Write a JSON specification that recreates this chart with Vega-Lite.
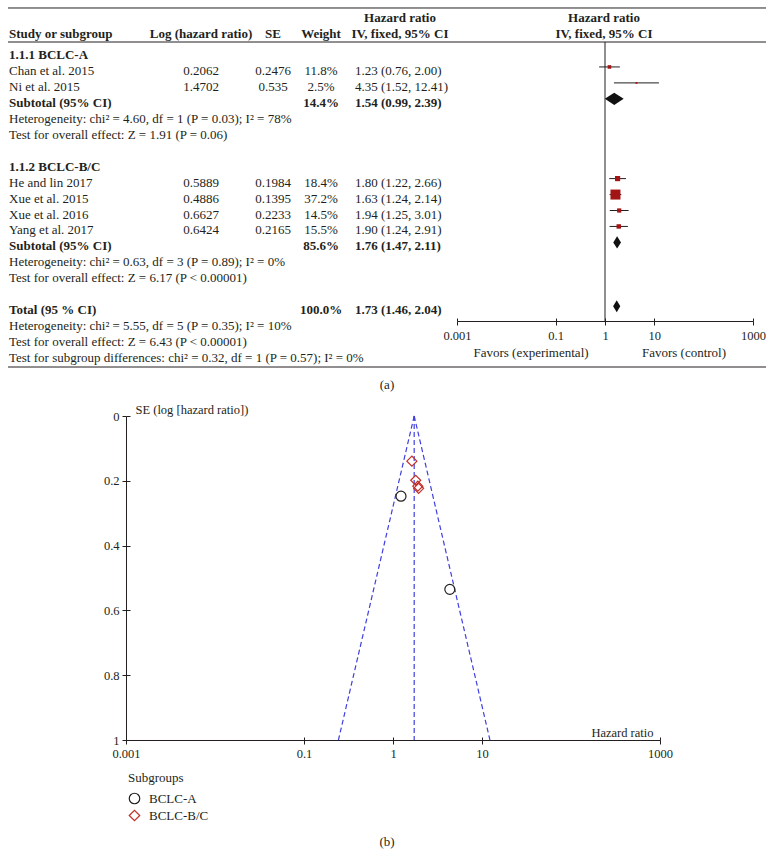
{
  "$schema": "https://vega.github.io/schema/vega-lite/v6.json",
  "width": 774,
  "height": 867,
  "padding": 0,
  "autosize": {"type": "fit", "contains": "padding"},
  "config": {
    "view": {"stroke": null},
    "font": "Liberation Serif",
    "text": {"font": "Liberation Serif", "fontSize": 13, "color": "#231f20"},
    "axis": {
      "labelFont": "Liberation Serif", "labelFontSize": 12.5, "labelColor": "#231f20",
      "domainColor": "#231f20", "tickColor": "#231f20", "grid": false,
      "titleFont": "Liberation Serif", "titleFontSize": 12.5, "titleFontWeight": "normal", "titleColor": "#231f20"
    }
  },
  "datasets": {
    "table": [
      {"row": 0, "study": "1.1.1 BCLC-A", "bold": true},
      {"row": 1, "study": "Chan et al. 2015", "loghr": "0.2062", "seText": "0.2476", "weight": "11.8%", "hrText": "1.23 (0.76, 2.00)", "est": 1.23, "lo": 0.76, "hi": 2.00, "w": 11.8, "se": 0.2476, "sub": "BCLC-A"},
      {"row": 2, "study": "Ni et al. 2015", "loghr": "1.4702", "seText": "0.535", "weight": "2.5%", "hrText": "4.35 (1.52, 12.41)", "est": 4.35, "lo": 1.52, "hi": 12.41, "w": 2.5, "se": 0.535, "sub": "BCLC-A"},
      {"row": 3, "study": "Subtotal (95% CI)", "weight": "14.4%", "hrText": "1.54 (0.99, 2.39)", "est": 1.54, "lo": 0.99, "hi": 2.39, "bold": true, "summary": true},
      {"row": 4, "study": "Heterogeneity: chi² = 4.60, df = 1 (P = 0.03); I² = 78%"},
      {"row": 5, "study": "Test for overall effect: Z = 1.91 (P = 0.06)"},
      {"row": 7, "study": "1.1.2 BCLC-B/C", "bold": true},
      {"row": 8, "study": "He and lin 2017", "loghr": "0.5889", "seText": "0.1984", "weight": "18.4%", "hrText": "1.80 (1.22, 2.66)", "est": 1.80, "lo": 1.22, "hi": 2.66, "w": 18.4, "se": 0.1984, "sub": "BCLC-B/C"},
      {"row": 9, "study": "Xue et al. 2015", "loghr": "0.4886", "seText": "0.1395", "weight": "37.2%", "hrText": "1.63 (1.24, 2.14)", "est": 1.63, "lo": 1.24, "hi": 2.14, "w": 37.2, "se": 0.1395, "sub": "BCLC-B/C"},
      {"row": 10, "study": "Xue et al. 2016", "loghr": "0.6627", "seText": "0.2233", "weight": "14.5%", "hrText": "1.94 (1.25, 3.01)", "est": 1.94, "lo": 1.25, "hi": 3.01, "w": 14.5, "se": 0.2233, "sub": "BCLC-B/C"},
      {"row": 11, "study": "Yang et al. 2017", "loghr": "0.6424", "seText": "0.2165", "weight": "15.5%", "hrText": "1.90 (1.24, 2.91)", "est": 1.90, "lo": 1.24, "hi": 2.91, "w": 15.5, "se": 0.2165, "sub": "BCLC-B/C"},
      {"row": 12, "study": "Subtotal (95% CI)", "weight": "85.6%", "hrText": "1.76 (1.47, 2.11)", "est": 1.76, "lo": 1.47, "hi": 2.11, "bold": true, "summary": true},
      {"row": 13, "study": "Heterogeneity: chi² = 0.63, df = 3 (P = 0.89); I² = 0%"},
      {"row": 14, "study": "Test for overall effect: Z = 6.17 (P < 0.00001)"},
      {"row": 16, "study": "Total (95 % CI)", "weight": "100.0%", "hrText": "1.73 (1.46, 2.04)", "est": 1.73, "lo": 1.46, "hi": 2.04, "bold": true, "summary": true},
      {"row": 17, "study": "Heterogeneity: chi² = 5.55, df = 5 (P = 0.35); I² = 10%"},
      {"row": 18, "study": "Test for overall effect: Z = 6.43 (P < 0.00001)"},
      {"row": 19, "study": "Test for subgroup differences: chi² = 0.32, df = 1 (P = 0.57); I² = 0%"}
    ],
    "header": [
      {"row": -2, "hrh": "Hazard ratio", "fh": "Hazard ratio"},
      {"row": -1, "study": "Study or subgroup", "loghr": "Log (hazard ratio)", "seText": "SE", "weight": "Weight", "hrh": "IV, fixed, 95% CI", "fh": "IV, fixed, 95% CI"}
    ],
    "funnelLines": [
      {"line": "center", "hr": 1.73, "se": 0},
      {"line": "center", "hr": 1.73, "se": 1},
      {"line": "left", "hr": 1.73, "se": 0},
      {"line": "left", "hr": 0.2437, "se": 1},
      {"line": "right", "hr": 1.73, "se": 0},
      {"line": "right", "hr": 12.28, "se": 1}
    ]
  },
  "resolve": {"scale": {"x": "independent", "y": "independent"}, "axis": {"x": "independent", "y": "independent"}},
  "layer": [
    {
      "layer": [
        {"data": {"name": "table"}, "transform": [{"filter": "!datum.bold"}],
         "mark": {"type": "text", "align": "left", "baseline": "middle", "dy": 4, "dx": 1},
         "encoding": {"x": {"datum": 0, "type": "quantitative", "scale": {"domain": [0,1,2,3,4,5,6,7,8,9,10], "range": [8,201,273,321,355,387,400,531,604,684,766], "zero": false, "nice": false}, "axis": null},
                      "y": {"field": "row", "type": "quantitative", "scale": {"domain": [0, 20], "range": [51, 370], "zero": false, "nice": false}, "axis": null},
                      "text": {"field": "study"}}},
        {"data": {"name": "table"}, "transform": [{"filter": "datum.bold"}],
         "mark": {"type": "text", "align": "left", "baseline": "middle", "dy": 4, "dx": 1, "fontWeight": "bold"},
         "encoding": {"x": {"datum": 0, "type": "quantitative", "axis": null},
                      "y": {"field": "row", "type": "quantitative", "axis": null},
                      "text": {"field": "study"}}},
        {"data": {"name": "table"}, "transform": [{"filter": "datum.loghr"}],
         "mark": {"type": "text", "align": "center", "baseline": "middle", "dy": 4},
         "encoding": {"x": {"datum": 1, "type": "quantitative", "axis": null},
                      "y": {"field": "row", "type": "quantitative", "axis": null},
                      "text": {"field": "loghr"}}},
        {"data": {"name": "table"}, "transform": [{"filter": "datum.seText"}],
         "mark": {"type": "text", "align": "center", "baseline": "middle", "dy": 4},
         "encoding": {"x": {"datum": 2, "type": "quantitative", "axis": null},
                      "y": {"field": "row", "type": "quantitative", "axis": null},
                      "text": {"field": "seText"}}},
        {"data": {"name": "table"}, "transform": [{"filter": "datum.weight && !datum.bold"}],
         "mark": {"type": "text", "align": "center", "baseline": "middle", "dy": 4},
         "encoding": {"x": {"datum": 3, "type": "quantitative", "axis": null},
                      "y": {"field": "row", "type": "quantitative", "axis": null},
                      "text": {"field": "weight"}}},
        {"data": {"name": "table"}, "transform": [{"filter": "datum.weight && datum.bold"}],
         "mark": {"type": "text", "align": "center", "baseline": "middle", "dy": 4, "fontWeight": "bold"},
         "encoding": {"x": {"datum": 3, "type": "quantitative", "axis": null},
                      "y": {"field": "row", "type": "quantitative", "axis": null},
                      "text": {"field": "weight"}}},
        {"data": {"name": "table"}, "transform": [{"filter": "datum.hrText && !datum.bold"}],
         "mark": {"type": "text", "align": "left", "baseline": "middle", "dy": 4},
         "encoding": {"x": {"datum": 4, "type": "quantitative", "axis": null},
                      "y": {"field": "row", "type": "quantitative", "axis": null},
                      "text": {"field": "hrText"}}},
        {"data": {"name": "table"}, "transform": [{"filter": "datum.hrText && datum.bold"}],
         "mark": {"type": "text", "align": "left", "baseline": "middle", "dy": 4, "fontWeight": "bold"},
         "encoding": {"x": {"datum": 4, "type": "quantitative", "axis": null},
                      "y": {"field": "row", "type": "quantitative", "axis": null},
                      "text": {"field": "hrText"}}},
        {"data": {"name": "header"}, "transform": [{"filter": "datum.study"}],
         "mark": {"type": "text", "align": "left", "baseline": "middle", "dy": -1, "dx": 1, "fontWeight": "bold"},
         "encoding": {"x": {"datum": 0, "type": "quantitative", "axis": null},
                      "y": {"field": "row", "type": "quantitative", "axis": null},
                      "text": {"field": "study"}}},
        {"data": {"name": "header"}, "transform": [{"filter": "datum.loghr"}],
         "mark": {"type": "text", "align": "center", "baseline": "middle", "dy": -1, "fontWeight": "bold"},
         "encoding": {"x": {"datum": 1, "type": "quantitative", "axis": null},
                      "y": {"field": "row", "type": "quantitative", "axis": null},
                      "text": {"field": "loghr"}}},
        {"data": {"name": "header"}, "transform": [{"filter": "datum.seText"}],
         "mark": {"type": "text", "align": "center", "baseline": "middle", "dy": -1, "fontWeight": "bold"},
         "encoding": {"x": {"datum": 2, "type": "quantitative", "axis": null},
                      "y": {"field": "row", "type": "quantitative", "axis": null},
                      "text": {"field": "seText"}}},
        {"data": {"name": "header"}, "transform": [{"filter": "datum.weight"}],
         "mark": {"type": "text", "align": "center", "baseline": "middle", "dy": -1, "fontWeight": "bold"},
         "encoding": {"x": {"datum": 3, "type": "quantitative", "axis": null},
                      "y": {"field": "row", "type": "quantitative", "axis": null},
                      "text": {"field": "weight"}}},
        {"data": {"name": "header"},
         "mark": {"type": "text", "align": "center", "baseline": "middle", "dy": -1, "fontWeight": "bold"},
         "encoding": {"x": {"datum": 6, "type": "quantitative", "axis": null},
                      "y": {"field": "row", "type": "quantitative", "axis": null},
                      "text": {"field": "hrh"}}},
        {"data": {"name": "header"},
         "mark": {"type": "text", "align": "center", "baseline": "middle", "dy": -1, "fontWeight": "bold"},
         "encoding": {"x": {"datum": 8, "type": "quantitative", "axis": null},
                      "y": {"field": "row", "type": "quantitative", "axis": null},
                      "text": {"field": "fh"}}},
        {"data": {"values": [{}]},
         "mark": {"type": "text", "align": "center", "baseline": "middle"},
         "encoding": {"x": {"datum": 7, "type": "quantitative", "axis": null},
                      "y": {"datum": 18.93, "type": "quantitative", "axis": null},
                      "text": {"value": "Favors (experimental)"}}},
        {"data": {"values": [{}]},
         "mark": {"type": "text", "align": "center", "baseline": "middle"},
         "encoding": {"x": {"datum": 9, "type": "quantitative", "axis": null},
                      "y": {"datum": 18.93, "type": "quantitative", "axis": null},
                      "text": {"value": "Favors (control)"}}},
        {"data": {"values": [{}]},
         "mark": {"type": "text", "align": "center", "baseline": "middle"},
         "encoding": {"x": {"datum": 5, "type": "quantitative", "axis": null},
                      "y": {"datum": 20.94, "type": "quantitative", "axis": null},
                      "text": {"value": "(a)"}}},
        {"data": {"values": [{}]},
         "mark": {"type": "text", "align": "center", "baseline": "middle"},
         "encoding": {"x": {"datum": 5, "type": "quantitative", "axis": null},
                      "y": {"datum": 49.59, "type": "quantitative", "axis": null},
                      "text": {"value": "(b)"}}},
        {"data": {"values": [{}]},
         "mark": {"type": "rule", "color": "#231f20", "strokeWidth": 1},
         "encoding": {"x": {"datum": 0, "type": "quantitative", "axis": null},
                      "x2": {"datum": 10},
                      "y": {"datum": -2.696, "type": "quantitative", "axis": null}}},
        {"data": {"values": [{}]},
         "mark": {"type": "rule", "color": "#231f20", "strokeWidth": 1},
         "encoding": {"x": {"datum": 0, "type": "quantitative", "axis": null},
                      "x2": {"datum": 10},
                      "y": {"datum": -0.564, "type": "quantitative", "axis": null}}},
        {"data": {"values": [{}]},
         "mark": {"type": "rule", "color": "#231f20", "strokeWidth": 1},
         "encoding": {"x": {"datum": 0, "type": "quantitative", "axis": null},
                      "x2": {"datum": 10},
                      "y": {"datum": 19.812, "type": "quantitative", "axis": null}}}
      ]
    },
    {
      "layer": [
        {"data": {"values": [{}]},
         "mark": {"type": "rule", "color": "#231f20", "strokeWidth": 1},
         "encoding": {"x": {"datum": 1, "type": "quantitative", "title": null,
                            "scale": {"type": "log", "domain": [0.001, 1000], "range": [457, 753], "nice": false},
                            "axis": {"orient": "bottom", "offset": -546, "values": [0.001, 0.1, 1, 10, 1000], "format": "~g", "title": null, "tickSize": 4, "labelPadding": 4, "labelFlush": false, "labelOverlap": false}},
                      "y": {"datum": -0.564, "type": "quantitative", "scale": {"domain": [0, 20], "range": [51, 370], "zero": false, "nice": false}, "axis": null},
                      "y2": {"datum": 16.928}}},
        {"data": {"name": "table"}, "transform": [{"filter": "datum.w > 0"}],
         "mark": {"type": "rule", "color": "#231f20", "strokeWidth": 1},
         "encoding": {"x": {"field": "lo", "type": "quantitative", "title": null},
                      "x2": {"field": "hi"},
                      "y": {"field": "row", "type": "quantitative", "axis": null}}},
        {"data": {"name": "table"}, "transform": [{"filter": "datum.w > 0"}],
         "mark": {"type": "point", "shape": "square", "filled": true, "color": "#a31515", "opacity": 1},
         "encoding": {"x": {"field": "est", "type": "quantitative", "title": null},
                      "y": {"field": "row", "type": "quantitative", "axis": null},
                      "size": {"field": "w", "type": "quantitative", "scale": {"type": "pow", "exponent": 2, "domain": [0, 37.2], "range": [3, 100]}, "legend": null}}},
        {"data": {"name": "table"},
         "transform": [
           {"filter": "datum.summary"},
           {"fold": ["lo", "est", "hi"], "as": ["vtx", "hr"]},
           {"calculate": "datum.row - (datum.vtx === 'est' ? 0.38 : 0)", "as": "top"},
           {"calculate": "datum.row + (datum.vtx === 'est' ? 0.38 : 0)", "as": "bot"}
         ],
         "mark": {"type": "area", "orient": "vertical", "color": "#111111", "opacity": 1},
         "encoding": {"x": {"field": "hr", "type": "quantitative", "title": null},
                      "y": {"field": "top", "type": "quantitative", "axis": null},
                      "y2": {"field": "bot"},
                      "detail": {"field": "row"}}}
      ]
    },
    {
      "layer": [
        {"data": {"values": [{"v": 1}]},
         "mark": {"type": "point", "opacity": 0},
         "encoding": {"x": {"field": "v", "type": "quantitative",
                            "scale": {"type": "log", "domain": [0.001, 1000], "range": [457, 753], "nice": false},
                            "axis": {"orient": "top", "offset": -321, "values": [0.001, 0.1, 1, 10, 1000], "labels": false, "domain": false, "title": null, "tickSize": 3}}}}
      ]
    },
    {
      "layer": [
        {"data": {"name": "funnelLines"},
         "mark": {"type": "line", "color": "#3f3fe0", "strokeWidth": 1.2, "strokeDash": [5, 3]},
         "encoding": {"x": {"field": "hr", "type": "quantitative",
                            "scale": {"type": "log", "domain": [0.001, 1000], "range": [126, 660], "nice": false},
                            "axis": {"orient": "bottom", "offset": -127, "values": [0.001, 0.1, 1, 10, 1000], "format": "~g", "title": "Hazard ratio", "titleAngle": 0, "titleAlign": "right", "titleBaseline": "middle", "titleX": 653, "titleY": -8, "tickSize": 4, "labelPadding": 3, "labelFlush": false, "labelOverlap": false}},
                      "y": {"field": "se", "type": "quantitative",
                            "scale": {"domain": [0, 1], "range": [416, 740], "zero": false, "nice": false},
                            "axis": {"orient": "left", "offset": -126, "values": [0, 0.2, 0.4, 0.6, 0.8, 1], "format": "~g", "title": "SE (log [hazard ratio])", "titleAngle": 0, "titleAlign": "left", "titleBaseline": "middle", "titleX": 9, "titleY": 409, "tickSize": 4, "labelPadding": 3}},
                      "detail": {"field": "line"},
                      "order": {"field": "se"}}},
        {"data": {"name": "table"}, "transform": [{"filter": "datum.se > 0"}],
         "mark": {"type": "point", "filled": false, "size": 100, "strokeWidth": 1.2, "opacity": 1},
         "encoding": {"x": {"field": "est", "type": "quantitative"},
                      "y": {"field": "se", "type": "quantitative"},
                      "shape": {"field": "sub", "type": "nominal", "title": "Subgroups",
                                "scale": {"domain": ["BCLC-A", "BCLC-B/C"], "range": ["circle", "diamond"]},
                                "legend": {"orient": "none", "legendX": 128, "legendY": 772, "titleFont": "Liberation Serif", "titleFontWeight": "normal", "titleFontSize": 13, "titleColor": "#231f20", "labelFont": "Liberation Serif", "labelFontSize": 13, "labelColor": "#231f20", "symbolSize": 110, "symbolStrokeWidth": 1.2, "symbolFillColor": "transparent", "rowPadding": 2, "clipHeight": 15, "titlePadding": 6, "labelOffset": 8}},
                      "stroke": {"field": "sub", "type": "nominal", "title": "Subgroups",
                                 "scale": {"domain": ["BCLC-A", "BCLC-B/C"], "range": ["#231f20", "#c0302b"]},
                                 "legend": {"orient": "none", "legendX": 128, "legendY": 772, "titleFont": "Liberation Serif", "titleFontWeight": "normal", "titleFontSize": 13, "titleColor": "#231f20", "labelFont": "Liberation Serif", "labelFontSize": 13, "labelColor": "#231f20", "symbolSize": 110, "symbolStrokeWidth": 1.2, "symbolFillColor": "transparent", "rowPadding": 2, "clipHeight": 15, "titlePadding": 6, "labelOffset": 8}}}}
      ]
    },
    {
      "layer": [
        {"data": {"values": [{"v": 1, "s": 0.5}]},
         "mark": {"type": "point", "opacity": 0},
         "encoding": {"x": {"field": "v", "type": "quantitative",
                            "scale": {"type": "log", "domain": [0.001, 1000], "range": [126, 660], "nice": false},
                            "axis": {"orient": "top", "offset": -740, "values": [0.001, 0.1, 1, 10, 1000], "labels": false, "domain": false, "title": null, "tickSize": 3}},
                      "y": {"field": "s", "type": "quantitative",
                            "scale": {"domain": [0, 1], "range": [416, 740], "zero": false, "nice": false},
                            "axis": {"orient": "right", "offset": -648, "values": [0, 0.2, 0.4, 0.6, 0.8, 1], "labels": false, "domain": false, "title": null, "tickSize": 4}}}}
      ]
    }
  ]
}
